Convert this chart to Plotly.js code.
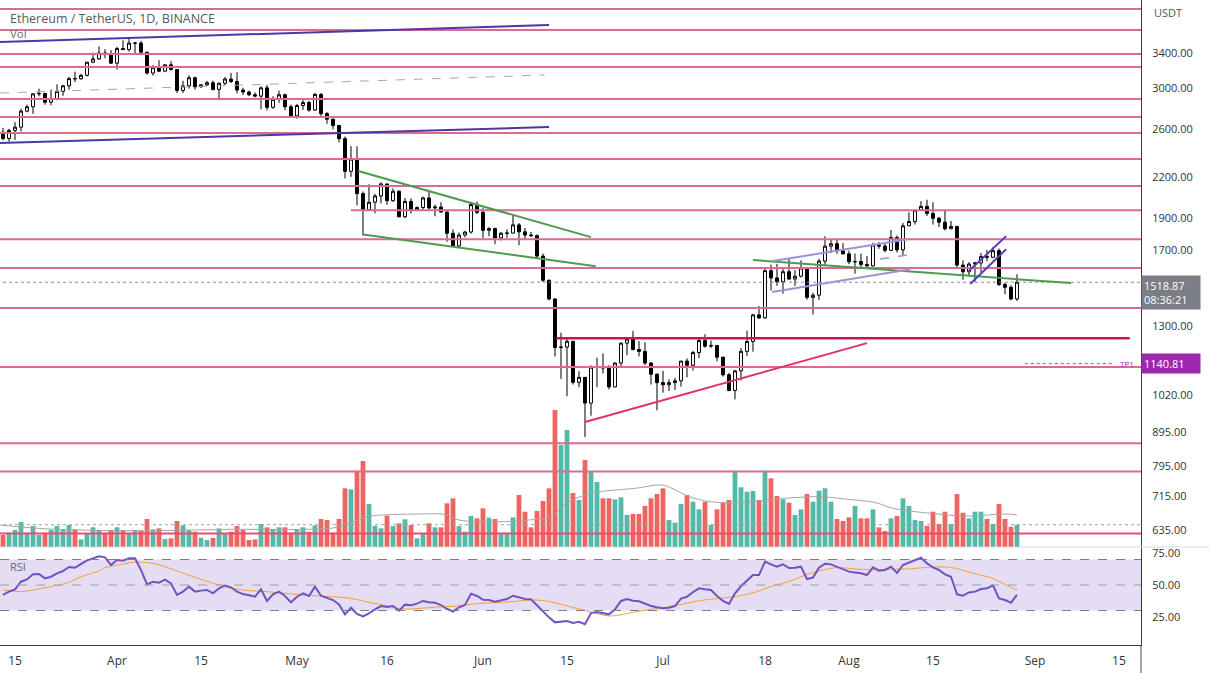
<!DOCTYPE html>
<html><head><meta charset="utf-8">
<script src="https://cdn.plot.ly/plotly-3.0.1.min.js"></script>
<style>html,body{margin:0;padding:0;background:#fff}#chart{width:1209px;height:673px}</style>
</head><body><div id="chart"></div>
<script>
// ---------- DATA ----------
const firstDay = '2022-03-13';
const opens = [
2573,2518,2590,2620,2772,2814,2945,2950,2860,2896,
2971,3030,3108,3106,3144,3292,3331,3401,3385,3281,
3454,3443,3521,3521,3410,3169,3233,3190,3262,3209,
2981,3029,3117,3020,3040,3063,2992,3058,3103,3076,
2985,2964,2936,2922,3008,2809,2889,2936,2815,2726,
2827,2857,2782,2940,2748,2694,2636,2516,2243,2342,
2074,1960,2012,2057,2146,2023,2091,1912,2018,1958,
1975,2043,1972,1978,1944,1804,1725,1793,1812,1996,
1942,1823,1834,1775,1804,1805,1858,1813,1793,1789,
1665,1529,1432,1207,1209,1234,1068,1087,993,1127,
1127,1124,1051,1143,1226,1243,1199,1191,1143,1099,
1067,1059,1067,1074,1151,1134,1186,1237,1213,1216,
1167,1097,1038,1112,1191,1233,1354,1340,1582,1542,
1521,1576,1536,1551,1597,1440,1451,1636,1724,1739,
1696,1678,1632,1633,1617,1609,1732,1725,1699,1777,
1702,1852,1880,1957,1983,1934,1902,1876,1833,1848,
1613,1576,1619,1625,1662,1658,1697,1507,1492,1432];
const highs = [
2614,2605,2667,2795,2836,2955,3000,2955,2990,3045,
3040,3125,3185,3160,3295,3405,3480,3446,3435,3475,
3555,3580,3535,3548,3410,3258,3315,3268,3305,3213,
3084,3145,3130,3050,3083,3086,3064,3125,3171,3178,
3010,2979,2961,3025,3038,2920,2980,2948,2836,2843,
2883,2873,2955,2954,2762,2701,2638,2535,2451,2450,
2090,2143,2072,2158,2146,2113,2098,2042,2040,1983,
2052,2086,1996,2013,1946,1829,1809,1820,2015,2016,
1971,1843,1840,1812,1829,1921,1870,1838,1812,1797,
1680,1534,1436,1272,1245,1235,1111,1088,1134,1165,
1182,1134,1146,1230,1250,1280,1235,1230,1147,1102,
1112,1080,1085,1152,1162,1193,1245,1265,1237,1217,
1168,1104,1115,1205,1281,1358,1397,1590,1616,1620,
1595,1654,1585,1640,1600,1464,1649,1785,1768,1763,
1743,1697,1680,1680,1665,1745,1749,1738,1825,1790,
1871,1942,1960,2020,2030,2012,1910,1960,1883,1848,
1640,1630,1632,1683,1701,1718,1710,1516,1503,1562];
const lows = [
2502,2490,2505,2580,2760,2745,2920,2835,2830,2880,
2925,2990,3070,3095,3130,3280,3320,3338,3272,3210,
3434,3417,3400,3402,3150,3140,3183,3185,3198,2954,
2953,3000,2990,3008,3030,2980,2880,3038,3059,2950,
2932,2922,2908,2790,2778,2795,2855,2780,2715,2700,
2784,2766,2775,2715,2651,2600,2483,2188,2200,1990,
1790,1952,1935,2004,1994,2015,1908,1902,1934,1950,
1955,1960,1915,1940,1751,1720,1717,1778,1802,1930,
1775,1786,1736,1759,1776,1804,1730,1767,1781,1653,
1520,1425,1170,1081,1017,1060,1050,881,950,1050,
1102,1042,1050,1126,1175,1195,1170,1135,1060,968,
1030,1036,1040,1052,1087,1113,1163,1206,1205,1150,
1090,1035,1006,1075,1172,1190,1335,1335,1475,1500,
1459,1530,1499,1545,1428,1356,1427,1610,1683,1678,
1675,1618,1565,1600,1594,1605,1708,1687,1695,1686,
1665,1851,1860,1955,1917,1860,1844,1822,1830,1600,
1532,1550,1522,1570,1635,1653,1499,1456,1425,1422];
const closes = [
2518,2590,2620,2772,2814,2945,2950,2860,2896,2971,
3030,3108,3106,3144,3292,3331,3401,3385,3281,3454,
3443,3521,3521,3410,3169,3233,3190,3262,3209,2981,
3029,3117,3020,3040,3063,2992,3058,3103,3076,2985,
2964,2936,2922,3008,2809,2889,2936,2815,2726,2827,
2857,2782,2940,2748,2694,2636,2516,2243,2342,2074,
1960,2012,2057,2146,2023,2091,1912,2018,1958,1975,
2043,1972,1978,1944,1804,1725,1793,1812,1996,1942,
1823,1834,1775,1804,1805,1858,1813,1793,1789,1665,
1529,1432,1207,1209,1234,1068,1087,993,1127,1127,
1124,1051,1143,1226,1243,1199,1191,1143,1099,1067,
1059,1067,1074,1151,1134,1186,1237,1213,1216,1167,
1097,1038,1112,1191,1233,1354,1340,1582,1542,1521,
1576,1536,1551,1597,1440,1451,1636,1724,1739,1696,
1678,1632,1633,1617,1609,1732,1725,1699,1777,1702,
1852,1880,1957,1983,1934,1902,1876,1833,1848,1613,
1576,1619,1625,1662,1658,1697,1507,1492,1432,1518.87];
// volume in thousand ETH
const volume = [
192,229,272,400,229,336,192,229,272,336,
283,352,283,123,219,315,272,229,272,315,
272,229,272,261,448,283,299,128,139,416,
347,272,245,149,112,144,299,219,245,336,
272,112,123,368,315,283,315,315,229,272,
315,245,347,448,432,229,448,939,923,1221,
1376,688,336,299,501,336,379,443,352,139,
219,379,315,315,699,779,336,245,496,459,
619,469,448,229,229,475,832,565,315,576,
736,939,2192,1632,1872,864,752,1392,1216,1040,
779,779,763,795,512,528,528,656,779,848,
939,432,389,688,832,725,603,725,352,603,
709,752,1221,955,885,896,752,1221,1099,816,
763,709,512,603,848,725,901,939,725,448,
416,475,656,459,459,603,315,256,459,496,
779,656,432,416,336,565,368,565,368,848,
549,459,565,565,448,368,688,448,325,357];
// volume moving average (read at sample days, day offset from firstDay)
const volMaDay = [-0.5,5.9,12.3,25,37.8,50.5,55.6,60.7,63.3,69.7,73.5,76,82.4,87.5,91.3,93.9,97,99.5,105.3,109.8,111.5,114.4,117.9,122.5,127,131.7,136.3,140.8,145.5,148.3,154.7,160.4,167.3,169];
const volMaVal = [352,299,272,261,283,283,315,485,512,528,523,432,405,432,485,699,832,885,939,992,939,805,725,709,752,789,805,763,709,619,539,496,528,512];
const rsi = [
42.2,44.8,46.6,52.6,54.4,58.4,58.6,55.2,56.5,59.2,
61.0,64.1,63.6,66.2,69.3,70.9,72.5,71.7,65.7,69.6,
69.1,70.9,70.9,61.8,50.5,52.6,51.8,54.2,51.3,42.2,
44.8,48.7,44.8,45.6,46.1,43.5,47.4,49.5,48.2,44.8,
42.9,41.9,40.8,46.6,37.5,42.7,44.8,41.4,36.4,40.8,
43.5,41.4,48.7,41.6,40.1,38.2,34.8,27.0,32.2,27.3,
25.4,27.8,30.9,33.5,32.7,33.5,29.9,34.6,34.1,35.4,
37.5,36.4,36.1,34.3,31.2,29.1,32.5,34.3,43.2,41.4,
38.5,38.2,36.9,38.2,39.0,41.6,40.1,39.0,38.8,33.8,
29.1,24.6,20.7,21.2,21.8,20.2,21.2,19.2,28.0,28.8,
27.8,27.0,30.9,37.5,39.0,37.7,37.2,35.1,33.5,32.5,
31.7,32.2,33.5,39.3,40.8,44.5,47.4,46.6,46.1,41.4,
37.5,35.1,43.5,49.0,53.5,57.8,57.8,68.3,66.2,64.4,
66.2,63.3,63.6,64.4,54.7,55.8,63.6,66.7,66.2,64.1,
62.5,60.5,59.9,59.2,57.8,63.9,61.2,61.8,64.4,59.4,
65.7,67.8,69.9,71.4,67.0,63.9,61.8,58.4,56.5,42.7,
41.6,44.2,44.8,46.9,47.4,49.7,39.5,38.2,36.1,42.2];
const rsiMaDay = [0,3,5,8,11,13,16,17,20,22,25,27,30,33,36,38,41,44,47,50,52,55,58,61,64,66.7,69.5,72.3,75,77.8,80.6,83.4,86,89,91.7,94.5,97.3,100,101,102.8,105.6,108.4,111,113.9,116.7,119.5,122.8,125.6,128.4,131.2,134,136.7,139,142.3,145,147.8,150.6,153.4,157.8,161.7,165,167.2,169];
const rsiMaVal = [46.1,44.8,46.1,48.7,52.1,56.5,61,63.6,66.5,68,67,64.4,59.2,54.4,50,47.4,45.6,44.8,43.5,42.2,41.6,40.8,39.5,36.4,33.8,31.2,31.7,32.7,33.3,34.8,35.9,36.4,37.5,38.2,36.4,33,29.6,26.5,25.7,26.5,29.1,31.2,33,35.6,38.2,39.5,41.5,44.8,49.5,53.1,58.4,61.8,63.6,62.5,61.8,62.5,62.5,63.6,63.9,59.2,55.2,50,46.1];
// horizontal levels (USDT)
const levelPrices = [3969,3687,3388,3237,2892,2715,2566,2342,2130,1767,1596,1387,1127,862,781];
const levelLow = 628;
const levelMay = [58, 1957];          // [start day, price]
const levelKey = [92.2, 187.8, 1247]; // [start day, end day, price]
const lastPrice = 1518.87;
const lastTimer = '08:36:21';
const tp1 = [170.3, 185.3, 1140.81];
// trend lines [day0, price0, day1, price1]
const channelTopOld = [-0.5, 3534, 91, 3752];
const channelBotOld = [-0.5, 2478, 91, 2621];
const dashedOld = [-0.5, 2954, 90.3, 3147];
const wedgeUpper = [59.2, 2245, 98, 1780];
const wedgeLower = [60, 1796, 98.8, 1607];
const neckline = [125, 1642, 178, 1514];
const supportRise = [97, 929, 144, 1226];
const flagTop = [128.3, 1636, 150.8, 1767];
const flagBot = [128.2, 1467, 151.2, 1590];
const flagMid = [146.2, 1648, 150.7, 1671];
const bearTop = [160.8, 1574, 167.2, 1786];
const bearBot = [161.2, 1509, 167.2, 1706];
// axis ticks
const priceTicks = [3400,3000,2600,2200,1900,1700,1300,1020,895,795,715,635];
const rsiTicks = [25,50,75];
const dateTicks = ['2022-03-15','2022-04-01','2022-04-15','2022-05-01','2022-05-16','2022-06-01','2022-06-15','2022-07-01','2022-07-18','2022-08-01','2022-08-15','2022-09-01','2022-09-15'];
const dateTickText = ['15','Apr','15','May','16','Jun','15','Jul','18','Aug','15','Sep','15'];

// ---------- BUILD ----------
const base = Date.parse(firstDay + 'T00:00:00Z');
function dd(d){ return new Date(base + d*86400000).toISOString().slice(0,19).replace('T',' '); }
const dates = closes.map((_,i)=>dd(i));
const X0 = -0.5, X1 = 189.67, XEND = 191;
const UP = '#53b9a8', DOWN = '#ef6461';
const volColors = closes.map((c,i)=> c >= opens[i] ? UP : DOWN);

function seg(a, color, width, dash){
  return {type:'scatter', mode:'lines', x:[dd(a[0]), dd(a[2])], y:[a[1], a[3]], xaxis:'x', yaxis:'y2',
    line:{color:color, width:width, dash:dash||'solid'}, hoverinfo:'skip'};
}
const lvX = [], lvY = [];
levelPrices.forEach(p=>{ lvX.push(dd(-1), dd(XEND), null); lvY.push(p, p, null); });

const traces = [
  {type:'bar', x:dates, y:volume, xaxis:'x', yaxis:'y', marker:{color:volColors, line:{width:0}}, hoverinfo:'skip'},
  {type:'scatter', mode:'lines', x:volMaDay.map(dd), y:volMaVal, xaxis:'x', yaxis:'y', line:{color:'#a6a6a6', width:1, shape:'spline'}, hoverinfo:'skip'},
  {type:'scatter', mode:'lines', x:[dd(-1), dd(XEND)], y:[volume[volume.length-1], volume[volume.length-1]], xaxis:'x', yaxis:'y', line:{color:'#9aa3a8', width:1, dash:'dot'}, hoverinfo:'skip'},
  {type:'candlestick', x:dates, open:opens, high:highs, low:lows, close:closes, xaxis:'x', yaxis:'y2',
    increasing:{line:{color:'#000', width:1}, fillcolor:'#ffffff'},
    decreasing:{line:{color:'#000', width:1}, fillcolor:'#000000'}, hoverinfo:'skip'},
  {type:'scatter', mode:'lines', x:lvX, y:lvY, xaxis:'x', yaxis:'y2', line:{color:'#dc6a93', width:2}, hoverinfo:'skip', connectgaps:false},
  {type:'scatter', mode:'lines', x:[dd(-1), dd(XEND)], y:[levelLow, levelLow], xaxis:'x', yaxis:'y2', line:{color:'#ee4a74', width:2}, hoverinfo:'skip'},
  {type:'scatter', mode:'lines', x:[dd(levelMay[0]), dd(XEND)], y:[levelMay[1], levelMay[1]], xaxis:'x', yaxis:'y2', line:{color:'#dc6a93', width:2}, hoverinfo:'skip'},
  {type:'scatter', mode:'lines', x:[dd(levelKey[0]), dd(levelKey[1])], y:[levelKey[2], levelKey[2]], xaxis:'x', yaxis:'y2', line:{color:'#c2185b', width:2.5}, hoverinfo:'skip'},
  {type:'scatter', mode:'lines', x:[dd(-1), dd(XEND)], y:[lastPrice, lastPrice], xaxis:'x', yaxis:'y2', line:{color:'#8c8f96', width:1, dash:'dot'}, hoverinfo:'skip'},
  {type:'scatter', mode:'lines', x:[dd(tp1[0]), dd(tp1[1])], y:[tp1[2], tp1[2]], xaxis:'x', yaxis:'y2', line:{color:'#b04ac4', width:1, dash:'dot'}, hoverinfo:'skip'},
  seg(channelTopOld, '#4f35a8', 2),
  seg(channelBotOld, '#4f35a8', 2),
  seg(dashedOld, '#a5a5b8', 1, 'dash'),
  seg(wedgeUpper, '#4f9a4c', 2),
  seg(wedgeLower, '#4f9a4c', 2),
  seg(neckline, '#4f9a4c', 2),
  seg(supportRise, '#e3306f', 2),
  seg(flagTop, '#9d92dc', 2),
  seg(flagBot, '#9d92dc', 2),
  seg(flagMid, '#9d92dc', 1.5, 'dash'),
  seg(bearTop, '#5a3cc2', 2),
  seg(bearBot, '#5a3cc2', 2),
  {type:'scatter', mode:'lines', x:rsiMaDay.map(dd), y:rsiMaVal, xaxis:'x', yaxis:'y3', line:{color:'#f4a236', width:1, shape:'spline'}, hoverinfo:'skip'},
  {type:'scatter', mode:'lines', x:dates, y:rsi, xaxis:'x', yaxis:'y3', line:{color:'#7053c2', width:2}, hoverinfo:'skip'}
];

const PANE = 0.1519;
const shapes = [
  {type:'rect', xref:'paper', yref:'y3', x0:0, x1:1, y0:30, y1:70, fillcolor:'rgba(126,87,194,0.2)', line:{width:0}, layer:'below'},
  {type:'line', xref:'paper', yref:'y3', x0:0, x1:1, y0:70, y1:70, line:{color:'#7b7e88', width:1, dash:'dash'}},
  {type:'line', xref:'paper', yref:'y3', x0:0, x1:1, y0:50, y1:50, line:{color:'#9a9ca6', width:1, dash:'dash'}},
  {type:'line', xref:'paper', yref:'y3', x0:0, x1:1, y0:30, y1:30, line:{color:'#7b7e88', width:1, dash:'dash'}},
  {type:'line', xref:'paper', yref:'paper', x0:0, x1:1.06, y0:PANE, y1:PANE, line:{color:'#d8d8d8', width:1}},
  {type:'line', xref:'paper', yref:'paper', x0:1, x1:1, y0:-0.05, y1:0, line:{color:'#444', width:1}}
];

const annotations = [
  {xref:'paper', yref:'paper', x:0.007, y:0.972, xanchor:'left', yanchor:'middle', showarrow:false, text:'Ethereum / TetherUS, 1D, BINANCE', font:{size:12.5, color:'#5a5a5a'}},
  {xref:'paper', yref:'paper', x:0.007, y:0.948, xanchor:'left', yanchor:'middle', showarrow:false, text:'Vol', font:{size:11.5, color:'#6a6a6a'}},
  {xref:'paper', yref:'paper', x:0.007, y:0.121, xanchor:'left', yanchor:'middle', showarrow:false, text:'RSI', font:{size:11, color:'#6a6a6a'}},
  {xref:'paper', yref:'paper', x:1.0096, y:0.98, xanchor:'left', yanchor:'middle', showarrow:false, text:'USDT', font:{size:11, color:'#555'}},
  {xref:'paper', yref:'y2', x:1, y:Math.log10(lastPrice), xanchor:'left', yanchor:'top', yshift:7, showarrow:false,
    text:lastPrice.toFixed(2)+'<br>'+lastTimer, align:'left', font:{size:11, color:'#ffffff'}, bgcolor:'#7b7e87', borderpad:2, width:54},
  {xref:'paper', yref:'y2', x:1, y:Math.log10(tp1[2]), xanchor:'left', yanchor:'middle', showarrow:false,
    text:tp1[2].toFixed(2), align:'left', font:{size:11, color:'#ffffff'}, bgcolor:'#9c27b0', borderpad:2, width:54},
  {xref:'x', yref:'y2', x:dd(187.4), y:Math.log10(tp1[2]), xanchor:'center', yanchor:'middle', showarrow:false, text:'TP1', font:{size:8, color:'#9c27b0'}}
];

const layout = {
  width:1209, height:673, margin:{l:0, r:68, t:0, b:28}, paper_bgcolor:'#fff', plot_bgcolor:'#fff',
  showlegend:false, hovermode:false, bargap:0.2,
  font:{family:'"Open Sans", Roboto, sans-serif', size:11, color:'#333'},
  xaxis:{type:'date', range:[dd(X0), dd(X1)], anchor:'y3', showgrid:false, zeroline:false, rangeslider:{visible:false},
    tickmode:'array', tickvals:dateTicks, ticktext:dateTickText, ticks:'outside', ticklen:5, tickcolor:'rgba(0,0,0,0)',
    showline:true, linecolor:'#3a3a3a', linewidth:1, tickfont:{size:12, color:'#333'}},
  yaxis:{domain:[PANE, 1], range:[0, 8752], visible:false, fixedrange:true},
  yaxis2:{overlaying:'y', anchor:'x', type:'log', side:'right', range:[Math.log10(598.6), Math.log10(4097)],
    tickmode:'array', tickvals:priceTicks, ticktext:priceTicks.map(v=>v.toFixed(2)), showgrid:false, zeroline:false,
    showline:true, linecolor:'#3a3a3a', ticks:'outside', ticklen:8, tickcolor:'rgba(0,0,0,0)', tickfont:{size:11, color:'#333'}},
  yaxis3:{domain:[0, PANE], anchor:'x', side:'right', range:[2.94, 79.8], tickmode:'array', tickvals:rsiTicks,
    ticktext:rsiTicks.map(v=>v.toFixed(2)), showgrid:false, zeroline:false, showline:true, linecolor:'#3a3a3a',
    ticks:'outside', ticklen:8, tickcolor:'rgba(0,0,0,0)', tickfont:{size:11, color:'#333'}},
  shapes:shapes, annotations:annotations
};
Plotly.newPlot('chart', traces, layout, {displayModeBar:false, staticPlot:true});
</script></body></html>
